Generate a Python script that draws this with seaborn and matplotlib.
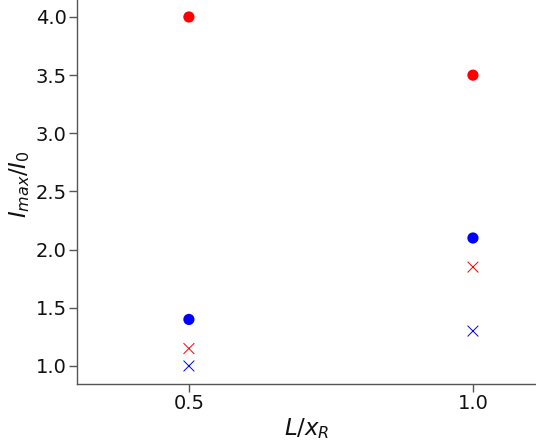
import pandas as pd
import matplotlib
matplotlib.use("Agg")
import matplotlib.pyplot as plt
import seaborn as sb

# values
L_xr = [0.5, 1.0]
red_dots = [4.0, 3.5]
blue_dots = [1.4, 2.1]
red_cross = [1.15, 1.85]
blue_cross = [1.0, 1.3]

sb.set_style("ticks")

fig = plt.figure(figsize=(5.36, 4.44), dpi=100)
ax = fig.add_axes([77 / 536, 60 / 444, 1 - 77 / 536, 1 - 60 / 444])

dots = pd.DataFrame({"x": L_xr * 2, "y": red_dots + blue_dots,
                     "grp": ["red"] * 2 + ["blue"] * 2})
crosses = pd.DataFrame({"x": L_xr * 2, "y": red_cross + blue_cross,
                        "grp": ["red"] * 2 + ["blue"] * 2})

sb.scatterplot(data=dots, x="x", y="y", hue="grp", palette={"red": "red", "blue": "blue"},
               marker="o", s=65, edgecolor="none", legend=False, ax=ax)
sb.scatterplot(data=crosses, x="x", y="y", hue="grp", palette={"red": "red", "blue": "blue"},
               marker="x", s=60, linewidth=0.7, legend=False, ax=ax)

ax.set_xlim(0.303, 1.111)
ax.set_ylim(0.845, 4.146)
ax.set_xticks([0.5, 1.0])
ax.set_yticks([1.0, 1.5, 2.0, 2.5, 3.0, 3.5, 4.0])
sb.despine(ax=ax)
for s in ["left", "bottom"]:
    ax.spines[s].set_color("#555555")
    ax.spines[s].set_linewidth(1.0)
ax.tick_params(colors="#555555", labelcolor="#111111", length=5.5, width=1,
               labelsize=14, pad=2)
ax.set_xlabel("$L/x_R$", fontsize=16.5, color="#111111", labelpad=2)
ax.set_ylabel("$I_{max}/I_0$", fontsize=16.5, color="#111111", labelpad=0)
ax.yaxis.set_label_coords(-0.098, 0.52)

plt.savefig("out.png", dpi=100)
